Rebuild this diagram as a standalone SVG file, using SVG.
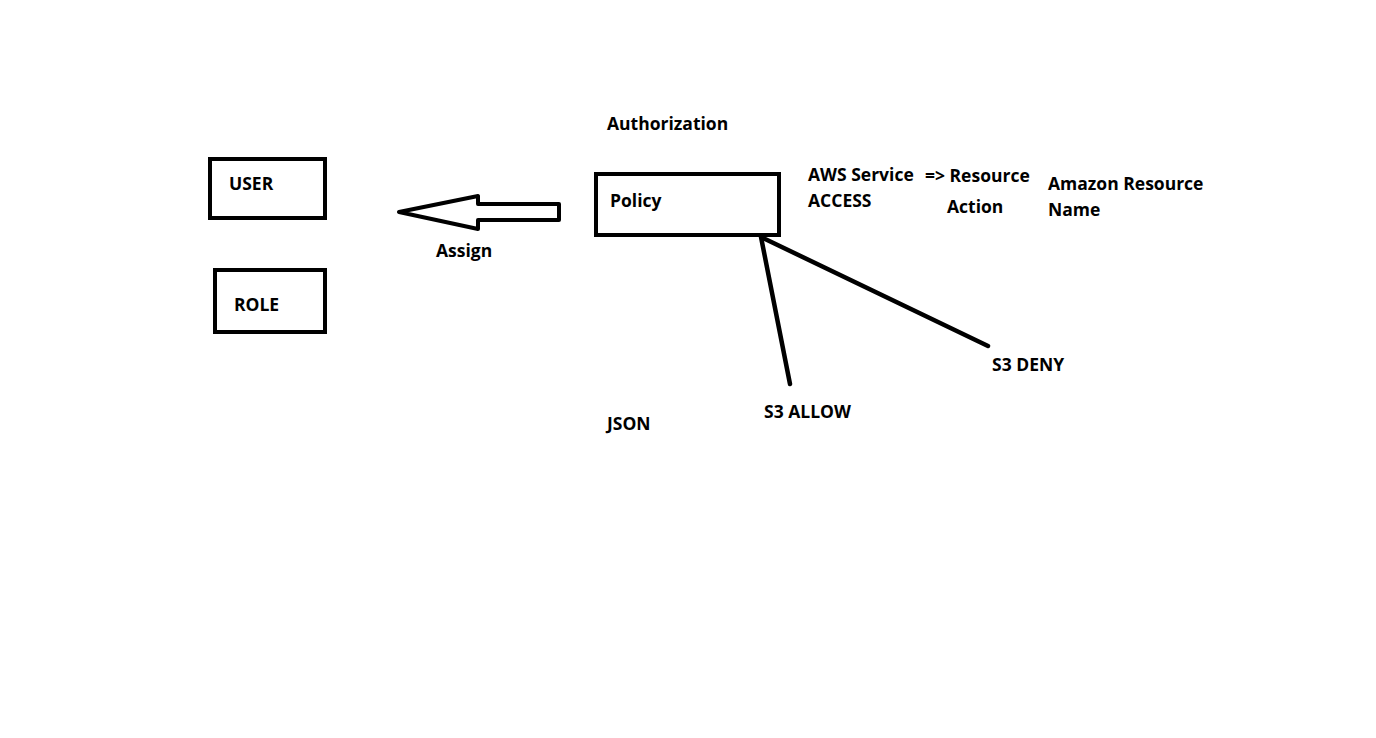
<svg xmlns="http://www.w3.org/2000/svg" width="1376" height="738" viewBox="0 0 1376 738">
<style>
.box{fill:none;stroke:#000;stroke-width:4}
.t{font-family:"Open Sans","Noto Sans",sans-serif;font-weight:bold;font-size:17.5px;fill:#000}
.ln{stroke:#000;stroke-width:4.5;stroke-linecap:round;fill:none}
</style>
<rect width="1376" height="738" fill="#fff"/>
<g id="user"><rect class="box" x="210" y="159" width="115" height="59"/><text class="t" x="229" y="190">USER</text></g>
<g id="role"><rect class="box" x="215" y="270" width="110" height="62"/><text class="t" x="234" y="311">ROLE</text></g>
<g id="policy"><rect class="box" x="596" y="174" width="183" height="61"/><text class="t" x="610" y="207">Policy</text></g>
<g id="s3allow"><text class="t" x="764" y="418">S3 ALLOW</text></g>
<g id="s3deny"><text class="t" x="992" y="371">S3 DENY</text></g>
<g id="labels">
<text class="t" x="607" y="130">Authorization</text>
<text class="t" x="808" y="181">AWS Service</text>
<text class="t" x="808" y="207">ACCESS</text>
<text class="t" x="925" y="182">=&gt; Resource</text>
<text class="t" x="947" y="213">Action</text>
<text class="t" x="1048" y="190">Amazon Resource</text>
<text class="t" x="1048" y="216">Name</text>
<text class="t" x="607" y="430">JSON</text>
<text class="t" x="436" y="257">Assign</text>
</g>
<g id="connectors">
<polygon points="399,212 478,196 478,204 559,204 559,220 478,220 478,229" fill="none" stroke="#000" stroke-width="4" stroke-linejoin="round"/>
<line class="ln" x1="761" y1="237" x2="790" y2="384"/>
<line class="ln" x1="763" y1="238" x2="988" y2="346"/>
</g>
</svg>
